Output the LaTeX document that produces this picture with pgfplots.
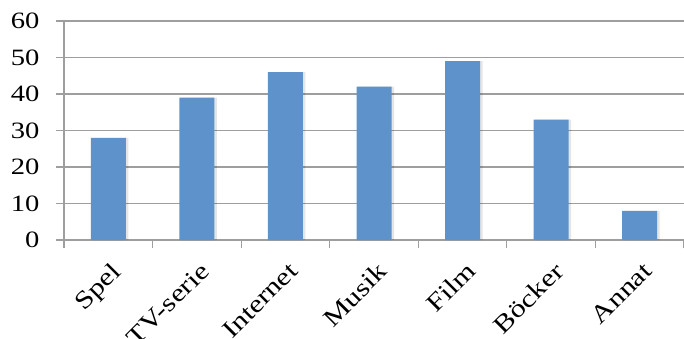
\documentclass[border=0pt]{standalone}
\usepackage{fontspec}
\setmainfont{Liberation Serif}[FakeStretch=1.22]
\usepackage{pgfplots}
\pgfplotsset{compat=1.18}
\definecolor{barblue}{RGB}{93,147,202}
\definecolor{gridgray}{RGB}{158,158,158}
\begin{document}
\begin{tikzpicture}
\begin{axis}[
  name=ax, at={(0,0)}, anchor=south west,
  scale only axis, width=620bp, height=219bp,
  xmin=-0.5, xmax=6.5, ymin=0, ymax=60,
  axis x line*=bottom, axis y line*=left,
  axis line style={gridgray, line width=1.2bp},
  ytick={0,10,...,60},
  ymajorgrids, major grid style={gridgray, line width=1.2bp},
  xtick={-0.5,0.5,...,6.5}, xticklabels={},
  extra x ticks={0,1,2,3,4,5,6},
  extra x tick labels={Spel,TV-serie,Internet,Musik,Film,Böcker,Annat},
  extra x tick style={major tick length=0pt, grid=none,
     tick label style={xshift=2bp, yshift=-16bp, rotate=45, anchor=north east,
       font=\fontsize{25}{28}\selectfont}},
  tick align=outside,
  major tick length=8bp,
  tick style={gridgray, line width=1.2bp},
  tick label style={font=\fontsize{23.5}{26}\selectfont, black},
  yticklabel style={xshift=-13bp},
  /pgf/number format/assume math mode=true,
]
\addplot[ybar, bar width=35bp, bar shift=2.5bp, fill=black, opacity=0.10, draw=none]
  coordinates {(0,28) (1,39) (2,46) (3,42) (4,49) (5,33) (6,8)};
\addplot[ybar, bar width=35bp, bar shift=0pt, fill=barblue, draw=none]
  coordinates {(0,28) (1,39) (2,46) (3,42) (4,49) (5,33) (6,8)};
\end{axis}
\pgfresetboundingbox
\path ([xshift=-64bp,yshift=-98bp]ax.south west) rectangle ([yshift=21bp]ax.north east);
\end{tikzpicture}
\end{document}
